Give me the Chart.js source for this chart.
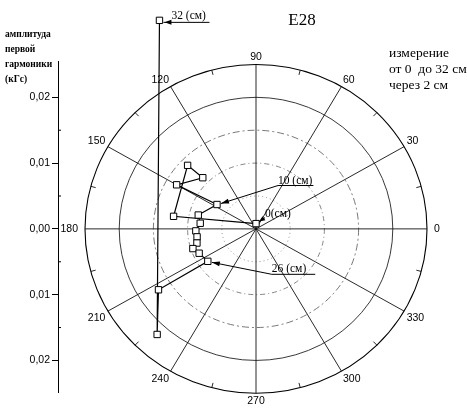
<!DOCTYPE html>
<html>
<head>
<meta charset="utf-8">
<script src="https://cdn.jsdelivr.net/npm/chart.js@4.4.1/dist/chart.umd.min.js"></script>
<style>
  html, body { margin: 0; padding: 0; background: #fff; }
  #wrap { position: relative; width: 467px; height: 409px; }
</style>
</head>
<body>
<div id="wrap"><canvas id="c" width="467" height="409"></canvas></div>
<script>
// Measurement depths along the probe path, cm
const depthsCm = [0, 2, 4, 6, 8, 10, 12, 14, 16, 18, 20, 22, 24, 26, 28, 30, 32];
// Amplitude of the first harmonic, kGs
const amplitudeKGs = [0.0008, 0.0122, 0.0139, 0.0110, 0.0134, 0.0068, 0.0087, 0.0082, 0.0088,
                      0.0087, 0.0089, 0.0097, 0.0091, 0.0086, 0.0170, 0.0216, 0.0347];
// Phase of the first harmonic, degrees
const phaseDeg = [90, 171, 136, 135, 150, 147, 166, 174, 182, 188, 194, 198, 204, 215, 213, 228, 114];

// Depths that carry a caption on the plot
const labelledDepths = [0, 10, 26, 32];

// Polar grid: amplitude rings (kGs) and angle spokes (degrees)
const ringValues = [0.005, 0.010, 0.015, 0.020, 0.025];
const spokeAngles = [0, 30, 60, 90, 120, 150, 180, 210, 240, 270, 300, 330];
const angleTickLabels = ['0', '30', '60', '90', '120', '150', '180', '210', '240', '270', '300', '330'];

// Left amplitude axis
const axisTickValues = [-0.02, -0.01, 0, 0.01, 0.02];
const axisMinorValues = [-0.015, -0.005, 0.005, 0.015];
const axisTitleLines = ['амплитуда', 'первой', 'гармоники', '(кГс)'];

const titleText = 'E28';
const noteLines = ['измерение', 'от 0  до 32 см', 'через 2 см'];

// Convert (amplitude, phase) pairs into cartesian components for the linear scales
const points = amplitudeKGs.map((a, i) => {
  const t = phaseDeg[i] * Math.PI / 180;
  return { x: a * Math.cos(t), y: a * Math.sin(t) };
});

const SANS = '"Liberation Sans", Arial, sans-serif';
const SERIF = '"Liberation Serif", "Times New Roman", serif';

function arrowHead(ctx, fromX, fromY, toX, toY, len, halfW) {
  const ang = Math.atan2(toY - fromY, toX - fromX);
  ctx.beginPath();
  ctx.moveTo(toX, toY);
  ctx.lineTo(toX - len * Math.cos(ang) + halfW * Math.sin(ang), toY - len * Math.sin(ang) - halfW * Math.cos(ang));
  ctx.lineTo(toX - len * Math.cos(ang) - halfW * Math.sin(ang), toY - len * Math.sin(ang) + halfW * Math.cos(ang));
  ctx.closePath();
  ctx.fill();
}

// Visible extent of the amplitude axis line
const AXIS_TOP = 61, AXIS_BOTTOM = 393;

const polarGrid = {
  id: 'polarGrid',
  beforeDatasetsDraw(chart) {
    const { ctx, scales: { x, y } } = chart;
    const cx = x.getPixelForValue(0), cy = y.getPixelForValue(0);
    const radii = v => [x.getPixelForValue(v) - cx, cy - y.getPixelForValue(v)];
    const ringStyle = [
      { dash: [1, 3], color: '#777', w: 0.8 },
      { dash: [5, 3, 1, 3], color: '#666', w: 0.8 },
      { dash: [7, 3, 2, 3], color: '#555', w: 0.8 },
      { dash: [], color: '#222', w: 0.9 },
      { dash: [], color: '#000', w: 1.1 }
    ];
    ctx.save();
    ringValues.forEach((v, i) => {
      const [rx, ry] = radii(v);
      const s = ringStyle[i];
      ctx.beginPath();
      ctx.setLineDash(s.dash);
      ctx.strokeStyle = s.color;
      ctx.lineWidth = s.w;
      ctx.ellipse(cx, cy, rx, ry, 0, 0, Math.PI * 2);
      ctx.stroke();
    });
    ctx.setLineDash([]);
    const outer = ringValues[ringValues.length - 1];
    const [orx, ory] = radii(outer);
    // spokes
    ctx.strokeStyle = '#111';
    ctx.lineWidth = 0.9;
    spokeAngles.forEach(a => {
      const t = a * Math.PI / 180;
      ctx.beginPath();
      ctx.moveTo(cx, cy);
      ctx.lineTo(cx + orx * Math.cos(t), cy - ory * Math.sin(t));
      ctx.stroke();
    });
    // small ticks between spokes on the outer ring
    spokeAngles.forEach(a => {
      const t = (a + 15) * Math.PI / 180;
      ctx.beginPath();
      ctx.moveTo(cx + orx * Math.cos(t), cy - ory * Math.sin(t));
      ctx.lineTo(cx + (orx - 5) * Math.cos(t), cy - (ory - 5) * Math.sin(t));
      ctx.stroke();
    });
    // angle labels
    ctx.fillStyle = '#000';
    ctx.font = '10.5px ' + SANS;
    spokeAngles.forEach((a, i) => {
      const t = a * Math.PI / 180;
      const c = Math.cos(t), s = Math.sin(t);
      const px = cx + (orx + 3) * c, py = cy - (ory + 3) * s;
      ctx.textAlign = c > 0.3 ? 'left' : (c < -0.3 ? 'right' : 'center');
      ctx.textBaseline = s > 0.3 ? 'bottom' : (s < -0.3 ? 'top' : 'middle');
      let ox = 0;
      if (a === 0) ox = 4;
      if (a === 180) ox = -4;
      ctx.fillText(angleTickLabels[i], px + ox, py + (s > 0.3 ? 1 : 0));
    });
    // amplitude axis line and its minor marks
    const ax = chart.chartArea.left;
    ctx.strokeStyle = '#000';
    ctx.lineWidth = 1;
    ctx.beginPath();
    ctx.moveTo(ax + 0.5, AXIS_TOP);
    ctx.lineTo(ax + 0.5, AXIS_BOTTOM);
    ctx.stroke();
    axisMinorValues.forEach(v => {
      const py = y.getPixelForValue(v);
      ctx.beginPath();
      ctx.moveTo(ax, py);
      ctx.lineTo(ax + 3, py);
      ctx.stroke();
    });
    ctx.restore();
  },
  afterDatasetsDraw(chart) {
    const { ctx } = chart;
    const meta = chart.getDatasetMeta(0);
    ctx.save();
    ctx.fillStyle = '#000';
    ctx.strokeStyle = '#000';
    ctx.lineWidth = 1;
    ctx.font = '11.5px ' + SERIF;
    ctx.textAlign = 'left';
    ctx.textBaseline = 'alphabetic';
    labelledDepths.forEach(d => {
      const p = meta.data[depthsCm.indexOf(d)];
      const caption = d + (d === 0 ? '(см)' : ' (см)');
      const tw = ctx.measureText(caption).width;
      let bx, by, ex;
      if (d === 32) {
        bx = p.x + 12; by = p.y + 2; ex = p.x + 50;
        ctx.beginPath(); ctx.moveTo(p.x + 4, by); ctx.lineTo(ex, by); ctx.stroke();
        arrowHead(ctx, p.x + 14, by, p.x + 5, by, 7, 2.5);
        ctx.fillText(caption, bx, by - 3);
      } else if (d === 0) {
        bx = p.x + 9; by = p.y - 6;
        ctx.beginPath(); ctx.moveTo(bx, by); ctx.lineTo(p.x + 3, p.y - 2); ctx.stroke();
        arrowHead(ctx, bx, by, p.x + 3, p.y - 2, 6, 2.5);
        ctx.fillText(caption, bx, by - 1);
      } else {
        const dx = d === 10 ? 61 : 64;
        const dy = d === 10 ? -19 : 13;
        bx = p.x + dx; by = p.y + dy;
        ctx.beginPath(); ctx.moveTo(p.x + 4, p.y + (dy > 0 ? 1 : -1)); ctx.lineTo(bx, by); ctx.lineTo(bx + tw + (d === 26 ? 9 : 1), by); ctx.stroke();
        arrowHead(ctx, bx, by, p.x + 4, p.y + (dy > 0 ? 1 : -1), 8, 2.5);
        ctx.fillText(caption, bx, by - 2);
      }
    });
    // title and notes
    ctx.font = '17px ' + SERIF;
    ctx.textAlign = 'center';
    ctx.fillText(titleText, 302, 25);
    ctx.font = '13.5px ' + SERIF;
    ctx.textAlign = 'left';
    noteLines.forEach((t, i) => ctx.fillText(t, 389, 57 + i * 16));
    ctx.font = 'bold 9.5px ' + SERIF;
    axisTitleLines.forEach((t, i) => ctx.fillText(t, 5, 37 + i * 15));
    ctx.restore();
  }
};

// Pixel budget for the plot: centre and scale of the linear axes
const KX = 6840, KY = 6650;
const AREA = { left: 58, right: 454, top: 4, bottom: 400, cx: 256, cy: 227 };

new Chart(document.getElementById('c'), {
  type: 'scatter',
  data: {
    datasets: [{
      data: points,
      showLine: true,
      borderColor: '#000',
      borderWidth: 1.2,
      pointStyle: 'rect',
      pointRadius: 4.5,
      pointBackgroundColor: '#fff',
      pointBorderColor: '#000',
      pointBorderWidth: 1,
      clip: false,
      tension: 0
    }]
  },
  options: {
    responsive: false,
    animation: false,
    events: [],
    layout: { padding: { left: 0, right: 467 - AREA.right, top: AREA.top, bottom: 409 - AREA.bottom } },
    plugins: { legend: { display: false }, tooltip: { enabled: false }, title: { display: false } },
    scales: {
      x: {
        type: 'linear',
        display: false,
        min: -(AREA.cx - AREA.left) / KX,
        max: (AREA.right - AREA.cx) / KX
      },
      y: {
        type: 'linear',
        position: 'left',
        min: -(AREA.bottom - AREA.cy) / KY,
        max: (AREA.cy - AREA.top) / KY,
        afterFit: s => { s.width = AREA.left; },
        afterBuildTicks: s => { s.ticks = axisTickValues.map(v => ({ value: v })); },
        border: { display: false },
        grid: { display: true, drawOnChartArea: false, drawTicks: true, tickLength: 6, color: '#000', lineWidth: 1 },
        ticks: {
          color: '#000',
          padding: 2,
          font: { family: SANS, size: 10.5 },
          callback: v => Math.abs(v).toFixed(2).replace('.', ',')
        }
      }
    }
  },
  plugins: [polarGrid]
});
</script>
</body>
</html>
